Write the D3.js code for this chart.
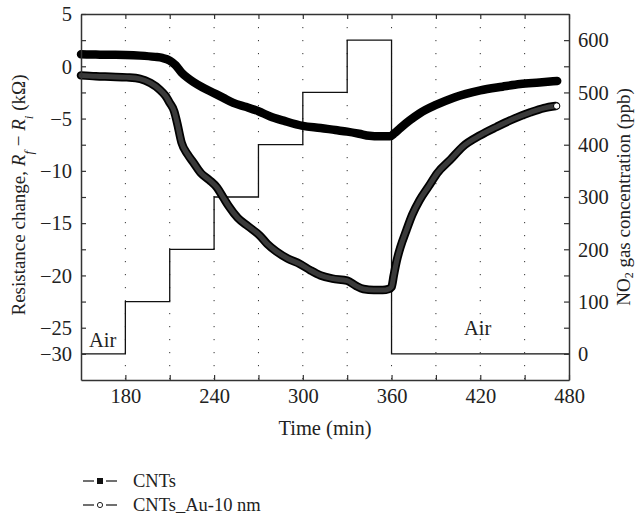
<!DOCTYPE html>
<html><head><meta charset="utf-8">
<script src="https://cdn.jsdelivr.net/npm/d3@7"></script>
<style>body{margin:0;background:#fff}svg{display:block}</style>
</head><body><svg id="c" width="639" height="519"></svg>
<script>
const cntsTime = [150,160,170,180,190,200,205,210,214,218,222,226,232,239,246,253,262,270,278,287,300,312,322,330,338,345,352,359,362,366,372,379,390,402,420,435,447,460,472];
const cntsVal  = [1.15,1.12,1.1,1.08,1.02,0.9,0.8,0.55,0.1,-0.6,-1.1,-1.5,-2.0,-2.5,-3.0,-3.5,-3.9,-4.3,-4.8,-5.2,-5.7,-5.9,-6.1,-6.25,-6.45,-6.65,-6.7,-6.7,-6.4,-5.9,-5.2,-4.5,-3.7,-3.0,-2.3,-1.95,-1.7,-1.55,-1.4];
const auTime = [150,160,170,181,190,197,203,207,210,213,215,218,222,226,231,237,242,246,250,256,263,271,276,282,290,298,305,312,320,330,336,341,348,354,358,360,361.5,363.5,366,370,374,379,385,391,400,408,420,431,443,454,463,471];
const auVal  = [-0.87,-0.95,-1.0,-1.06,-1.2,-1.6,-2.2,-2.8,-3.5,-4.3,-5.4,-7.3,-8.4,-9.2,-10.2,-10.9,-11.6,-12.5,-13.4,-14.5,-15.3,-16.2,-17.0,-17.7,-18.4,-18.9,-19.5,-20.0,-20.3,-20.5,-21.0,-21.3,-21.4,-21.4,-21.3,-21.1,-20,-18.6,-17.3,-15.7,-14.2,-12.8,-11.5,-10.2,-8.9,-7.7,-6.6,-5.8,-5.0,-4.4,-4.0,-3.8];
const stepTime = [150,180,180,210,210,240,240,270,270,300,300,330,330,360,360,480];
const stepConc = [0,0,100,100,200,200,300,300,400,400,500,500,600,600,0,0];
const xTickLabels = [180,240,300,360,420,480];
const leftTickValues = [5,0,-5,-10,-15,-20,-25,-27.5];
const leftTickLabels = ["5","0","\u22125","\u221210","\u221215","\u221220","\u221225","\u221230"];
const rightTickLabels = [0,100,200,300,400,500,600];
const legendNames = ["CNTs","CNTs_Au-10 nm"];

const FF = '"Liberation Serif","Times New Roman","DejaVu Serif","Noto Serif",serif';
const FS = 20.5;
const svg = d3.select("#c");
const L=81,R=569,T=14,B=380;
const x = d3.scaleLinear().domain([150,480]).range([L,R]);
const y = d3.scaleLinear().domain([-30,5]).range([B,T]);
const y2 = d3.scaleLinear().domain([-50,650]).range([B,T]);

svg.append("g").selectAll("line").data(d3.range(180,480,30)).join("line")
  .attr("x1",d=>x(d)).attr("x2",d=>x(d)).attr("y1",T).attr("y2",B)
  .attr("stroke","#333").attr("stroke-width",1).attr("stroke-dasharray","1.2,11.8");

svg.append("path").datum(stepTime.map((t,i)=>[t,stepConc[i]]))
  .attr("d",d3.line().x(d=>x(d[0])).y(d=>y2(d[1])))
  .attr("fill","none").attr("stroke","#111").attr("stroke-width",1.3);

const lineL = d3.line().x(d=>x(d[0])).y(d=>y(d[1])).curve(d3.curveMonotoneX);
const auData = auTime.map((t,i)=>[t,auVal[i]]);
const cData = cntsTime.map((t,i)=>[t,cntsVal[i]]);
svg.append("path").datum(auData).attr("d",lineL).attr("fill","none").attr("stroke","#000").attr("stroke-width",8.5).attr("stroke-linecap","round").attr("stroke-linejoin","round");
svg.append("path").datum(auData).attr("d",lineL).attr("fill","none").attr("stroke","#3a3a3a").attr("stroke-width",5).attr("stroke-linecap","round").attr("stroke-linejoin","round");
svg.append("path").datum(cData).attr("d",lineL).attr("fill","none").attr("stroke","#000").attr("stroke-width",8.5).attr("stroke-linecap","round").attr("stroke-linejoin","round");
const last = auData[auData.length-1];
svg.append("circle").attr("cx",x(last[0])+1).attr("cy",y(last[1])).attr("r",3.2).attr("fill","#fff").attr("stroke","#000").attr("stroke-width",1);

const gB = svg.append("g").attr("transform",`translate(0,${B})`)
  .call(d3.axisBottom(x).tickValues(d3.range(180,481,30)).tickSizeInner(-5).tickSizeOuter(0)
    .tickFormat(d=>xTickLabels.includes(d)?d:""));
const gT = svg.append("g").attr("transform",`translate(0,${T})`)
  .call(d3.axisTop(x).tickValues(d3.range(180,481,30)).tickSizeInner(-5).tickSizeOuter(0).tickFormat(""));
const gL = svg.append("g").attr("transform",`translate(${L},0)`)
  .call(d3.axisLeft(y).tickValues(d3.range(-27.5,5.1,2.5)).tickSizeInner(-5).tickSizeOuter(0)
    .tickFormat(d=>{const i=leftTickValues.indexOf(d);return i>=0?leftTickLabels[i]:"";}));
const gR = svg.append("g").attr("transform",`translate(${R},0)`)
  .call(d3.axisRight(y2).tickValues(d3.range(0,601,50)).tickSizeInner(-5).tickSizeOuter(0)
    .tickFormat(d=>rightTickLabels.includes(d)?d:""));
[gB,gT,gL,gR].forEach(g=>{
  g.attr("font-family",FF).attr("font-size",FS);
  g.select(".domain").attr("stroke","#333").attr("stroke-width",1.5);
  g.selectAll(".tick line").attr("stroke","#333").attr("stroke-width",1.2);
  g.selectAll(".tick text").attr("fill","#222");
});
gB.selectAll(".tick text").attr("y",0).attr("dy",23);
gL.selectAll(".tick text").attr("x",-9).attr("dy","0.33em");
gR.selectAll(".tick text").attr("x",9).attr("dy","0.33em");

function txt(sel,fs){ return sel.append("text").attr("font-family",FF).attr("font-size",fs||FS).attr("fill","#222"); }
txt(svg).attr("x",89).attr("y",y2(0)-7).text("Air");
txt(svg).attr("x",464).attr("y",y2(0)-19).text("Air");
txt(svg).attr("x",(L+R)/2).attr("y",435).attr("text-anchor","middle").text("Time (min)");
const lt = txt(svg,19).attr("transform","translate(25,195) rotate(-90)").attr("text-anchor","middle");
lt.append("tspan").text("Resistance change, ");
lt.append("tspan").attr("font-style","italic").text("R");
lt.append("tspan").attr("font-style","italic").attr("baseline-shift","sub").attr("font-size",13).text("f");
lt.append("tspan").text(" \u2212 ");
lt.append("tspan").attr("font-style","italic").text("R");
lt.append("tspan").attr("font-style","italic").attr("baseline-shift","sub").attr("font-size",13).text("i");
lt.append("tspan").text(" (k\u03A9)");
const rt = txt(svg,19).attr("transform","translate(630,197) rotate(-90)").attr("text-anchor","middle");
rt.append("tspan").text("NO");
rt.append("tspan").attr("dy",3).attr("font-size",12).text("2");
rt.append("tspan").attr("dy",-3).text(" gas concentration (ppb)");

const lg = svg.append("g");
legendNames.forEach((n,i)=>{
  const yy = 481 + i*24;
  lg.append("line").attr("x1",83).attr("x2",94).attr("y1",yy).attr("y2",yy).attr("stroke","#222").attr("stroke-width",1.3);
  lg.append("line").attr("x1",106).attr("x2",117).attr("y1",yy).attr("y2",yy).attr("stroke","#222").attr("stroke-width",1.3);
  if(i===0) lg.append("rect").attr("x",97).attr("y",yy-3).attr("width",6).attr("height",6).attr("fill","#111");
  else lg.append("circle").attr("cx",100).attr("cy",yy).attr("r",2.6).attr("fill","#fff").attr("stroke","#222").attr("stroke-width",1);
  txt(lg,18.5).attr("x",133).attr("y",yy+6).text(n);
});
</script></body></html>
